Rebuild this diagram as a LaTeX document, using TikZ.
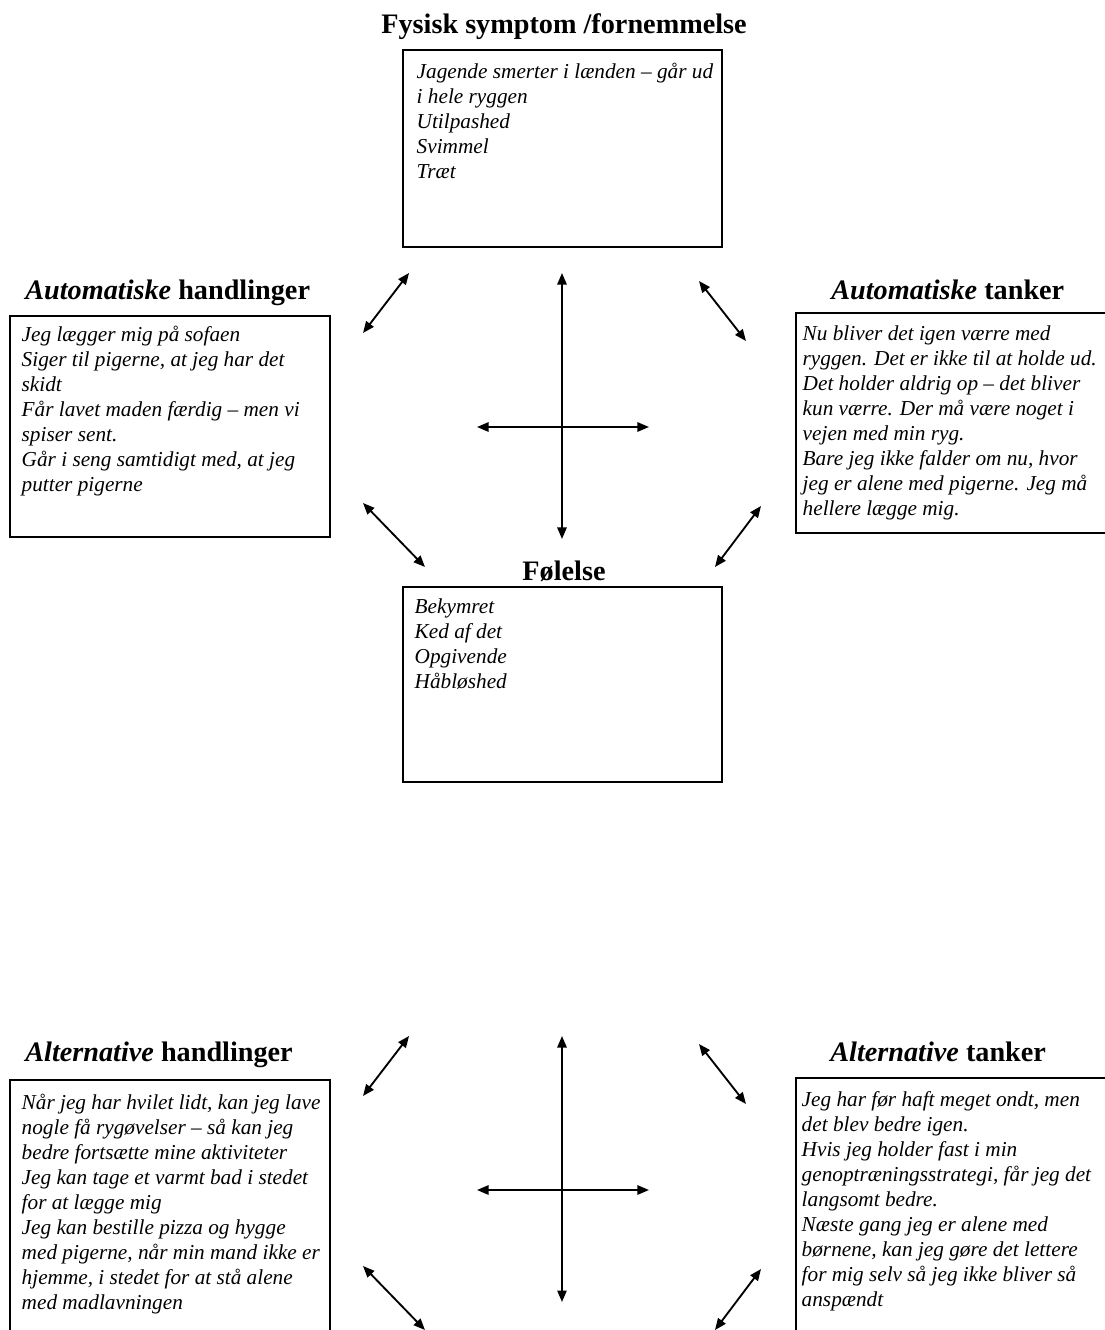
\documentclass[tikz,border=0pt]{standalone}
\usepackage{fontspec}
\setmainfont{Liberation Serif}
\usetikzlibrary{arrows.meta, fit, calc}
\tikzset{
  box frame/.style={draw, line width=0.7pt, inner sep=0pt},
  box text/.style={anchor=base west, align=left, inner sep=0pt, font=\fontsize{11.45}{13.46}\selectfont\itshape},
  title text/.style={anchor=base, inner sep=0pt, font=\fontsize{15.2}{18}\selectfont\bfseries},
  link arrow/.style={{Triangle[length=6.2pt, width=5pt]}-{Triangle[length=6.2pt, width=5pt]}, line width=1pt},
}

\begin{document}
\begin{tikzpicture}[x=0.5385pt, y=-0.5385pt]
  \clip (0,0) rectangle (1105,1330);
  % upper half (text nodes sit on the baseline of their last line)
  \node[title text] (symptomtitle) at (564,33) {Fysisk symptom /fornemmelse};
  \node[box frame, fit={(403,50) (722,247)}] (symptom) {};
  \node[box text] (symptomtext) at ($(symptom.north west)+(14,29+4*25)$) {Jagende smerter i lænden – går ud\\i hele ryggen\\Utilpashed\\Svimmel\\Træt};

  \node[title text, anchor=base west] (autoacttitle) at (25,299) {\textit{Automatiske} handlinger};
  \node[box frame, fit={(10,316) (330,537)}] (autoact) {};
  \node[box text] (autoacttext) at ($(autoact.north west)+(12,26+6*25)$) {Jeg lægger mig på sofaen\\Siger til pigerne, at jeg har det\\skidt\\Får lavet maden færdig – men vi\\spiser sent.\\Går i seng samtidigt med, at jeg\\putter pigerne};

  \node[title text, anchor=base west] (autothinktitle) at (831,299) {\textit{Automatiske} tanker};
  \node[box frame, fit={(796,313) (1115,533)}] (autothink) {};
  \node[box text] (autothinktext) at ($(autothink.north west)+(7,28+7*25)$) {Nu bliver det igen værre med\\ryggen. Det er ikke til at holde ud.\\Det holder aldrig op – det bliver\\kun værre. Der må være noget i\\vejen med min ryg.\\Bare jeg ikke falder om nu, hvor\\jeg er alene med pigerne. Jeg må\\hellere lægge mig.};

  \node[title text] (feeltitle) at (564,580) {Følelse};
  \node[box frame, fit={(403,587) (722,782)}] (feel) {};
  \node[box text] (feeltext) at ($(feel.north west)+(12,27+3*25)$) {Bekymret\\Ked af det\\Opgivende\\Håbløshed};

  % lower half
  \node[title text, anchor=base west] (altacttitle) at (25,1061) {\textit{Alternative} handlinger};
  \node[box frame, fit={(10,1080) (330,1345)}] (altact) {};
  \node[box text] (altacttext) at ($(altact.north west)+(12,30+8*25)$) {Når jeg har hvilet lidt, kan jeg lave\\nogle få rygøvelser – så kan jeg\\bedre fortsætte mine aktiviteter\\Jeg kan tage et varmt bad i stedet\\for at lægge mig\\Jeg kan bestille pizza og hygge\\med pigerne, når min mand ikke er\\hjemme, i stedet for at stå alene\\med madlavningen};

  \node[title text, anchor=base west] (altthinktitle) at (830,1061) {\textit{Alternative} tanker};
  \node[box frame, fit={(796,1078) (1115,1345)}] (altthink) {};
  \node[box text] (altthinktext) at ($(altthink.north west)+(6,29+8*25)$) {Jeg har før haft meget ondt, men\\det blev bedre igen.\\Hvis jeg holder fast i min\\genoptræningsstrategi, får jeg det\\langsomt bedre.\\Næste gang jeg er alene med\\børnene, kan jeg gøre det lettere\\for mig selv så jeg ikke bliver så\\anspændt};

  % arrow clusters
  \foreach \dy/\tag in {0/up, 763/low} {
    \coordinate (ula\tag) at (409,273+\dy);
    \coordinate (ulb\tag) at (363,333+\dy);
    \coordinate (ura\tag) at (699,281+\dy);
    \coordinate (urb\tag) at (746,341+\dy);
    \coordinate (lla\tag) at (363,503+\dy);
    \coordinate (llb\tag) at (425,567+\dy);
    \coordinate (lra\tag) at (761,506+\dy);
    \coordinate (lrb\tag) at (715,567+\dy);
    \coordinate (vta\tag) at (562,273+\dy);
    \coordinate (vtb\tag) at (562,539+\dy);
    \coordinate (hza\tag) at (477,427+\dy);
    \coordinate (hzb\tag) at (649,427+\dy);
    \draw[link arrow] (ula\tag) -- (ulb\tag);
    \draw[link arrow] (ura\tag) -- (urb\tag);
    \draw[link arrow] (lla\tag) -- (llb\tag);
    \draw[link arrow] (lra\tag) -- (lrb\tag);
    \draw[link arrow] (vta\tag) -- (vtb\tag);
    \draw[link arrow] (hza\tag) -- (hzb\tag);
  }
\end{tikzpicture}
\end{document}
